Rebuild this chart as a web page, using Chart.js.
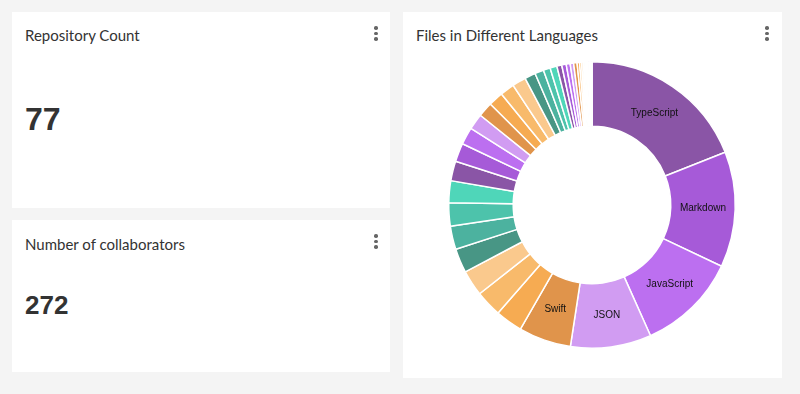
<!DOCTYPE html>
<html>
<head>
<meta charset="utf-8">
<title>Dashboard</title>
<script src="https://cdn.jsdelivr.net/npm/chart.js@4.4.1/dist/chart.umd.min.js"></script>
<style>
    body {
        margin: 0;
        width: 800px;
        height: 394px;
        background: #f4f4f4;
        position: relative;
        overflow: hidden;
        font-family: Lato, "Open Sans", sans-serif;
        color: #333;
    }
    .card {
        position: absolute;
        background: #fff;
    }
    .titulo {
        position: absolute;
        left: 13px;
        top: 14px;
        font-size: 15px;
        line-height: 18px;
        color: #333;
        white-space: nowrap;
    }
    .valor {
        position: absolute;
        left: 13px;
        font-family: "Liberation Sans", Arial, sans-serif;
        font-weight: bold;
        color: #333;
        white-space: nowrap;
    }
    .menu {
        position: absolute;
        top: 14px;
        width: 4px;
    }
    .menu span {
        display: block;
        width: 3.5px;
        height: 3.5px;
        border-radius: 50%;
        background: #666;
        margin-bottom: 2px;
    }
    #graficoLenguajes {
        position: absolute;
        left: 0;
        top: 43px;
    }
</style>
</head>
<body>

<div class="card" style="left:12px; top:12px; width:378px; height:196px;">
    <div class="titulo">Repository Count</div>
    <div class="menu" style="left:362px;"><span></span><span></span><span></span></div>
    <div class="valor" style="top:91px; font-size:32px; line-height:32px;">77</div>
</div>

<div class="card" style="left:12px; top:220px; width:378px; height:152px;">
    <div class="titulo" style="top:15px;">Number of collaborators</div>
    <div class="menu" style="left:362px;"><span></span><span></span><span></span></div>
    <div class="valor" style="top:72px; font-size:26px; line-height:26px;">272</div>
</div>

<div class="card" style="left:403px; top:12px; width:379px; height:366px;">
    <div class="titulo">Files in Different Languages</div>
    <div class="menu" style="left:362px;"><span></span><span></span><span></span></div>
    <canvas id="graficoLenguajes" width="378" height="300"></canvas>
</div>

<script>
// Datos (archivos por lenguaje)
const lenguajes = [
    "TypeScript", "Markdown", "JavaScript", "JSON", "Swift", "YAML",
    "HTML", "CSS", "Shell", "Python", "Kotlin", "Java",
    "SCSS", "Objective-C", "Ruby", "Go", "Dockerfile", "XML",
    "Text", "SVG", "Gradle", "C", "C++", "Rust",
    "PHP", "Vue", "Less", "GraphQL", "Makefile", "Batch",
    "PowerShell", "Properties", "TOML", "INI", "Lua", "Dart",
    "Scala", "Perl", "R", "C#", "Groovy", "Elixir",
    "Haskell", "Clojure", "Erlang"
];
const archivos = [
    684, 469, 406, 328, 213, 110, 107, 105, 98, 95, 94, 89,
    80, 75, 70, 65, 60, 60, 58, 56, 44, 36, 28, 28,
    20, 18, 16, 14, 14, 10, 8, 7, 6, 5, 4, 4,
    3, 3, 2, 2, 2, 1, 1, 1, 1
];

// Paleta que se repite cada 12 porciones
const paleta = [
    "#8a55a6", "#a65ad8", "#bc6ff0", "#d19cf2",
    "#e0944b", "#f6ab52", "#f8ba6b", "#fac98d",
    "#489685", "#4cb29f", "#4dc3ab", "#4fd6b9"
];

// Plugin para escribir el nombre dentro de las porciones grandes
const etiquetasPlugin = {
    id: 'etiquetas',
    afterDatasetsDraw(chart) {
        const ctx = chart.ctx;
        const meta = chart.getDatasetMeta(0);
        const datos = chart.data.datasets[0].data;
        const total = datos.reduce((a, b) => a + b, 0);
        ctx.save();
        ctx.font = '10px "Liberation Sans", Arial, sans-serif';
        ctx.fillStyle = '#111';
        ctx.textAlign = 'center';
        ctx.textBaseline = 'middle';
        meta.data.forEach((arco, i) => {
            if (datos[i] / total < 0.05) return;
            const pos = arco.tooltipPosition();
            ctx.fillText(chart.data.labels[i], pos.x, pos.y);
        });
        ctx.restore();
    }
};

function generarGraficoLenguajes() {
    const ctx = document.getElementById('graficoLenguajes').getContext('2d');

    new Chart(ctx, {
        type: 'doughnut',
        data: {
            labels: lenguajes,
            datasets: [{
                data: archivos,
                backgroundColor: lenguajes.map((_, i) => paleta[i % paleta.length]),
                borderColor: '#fff',
                borderWidth: 1.5,
                hoverOffset: 0
            }]
        },
        options: {
            responsive: false,
            animation: false,
            cutout: '55%',
            layout: { padding: { top: 6, bottom: 6 } },
            plugins: {
                legend: { display: false },
                tooltip: { enabled: false }
            }
        },
        plugins: [etiquetasPlugin]
    });
}

window.onload = generarGraficoLenguajes;
</script>
</body>
</html>
